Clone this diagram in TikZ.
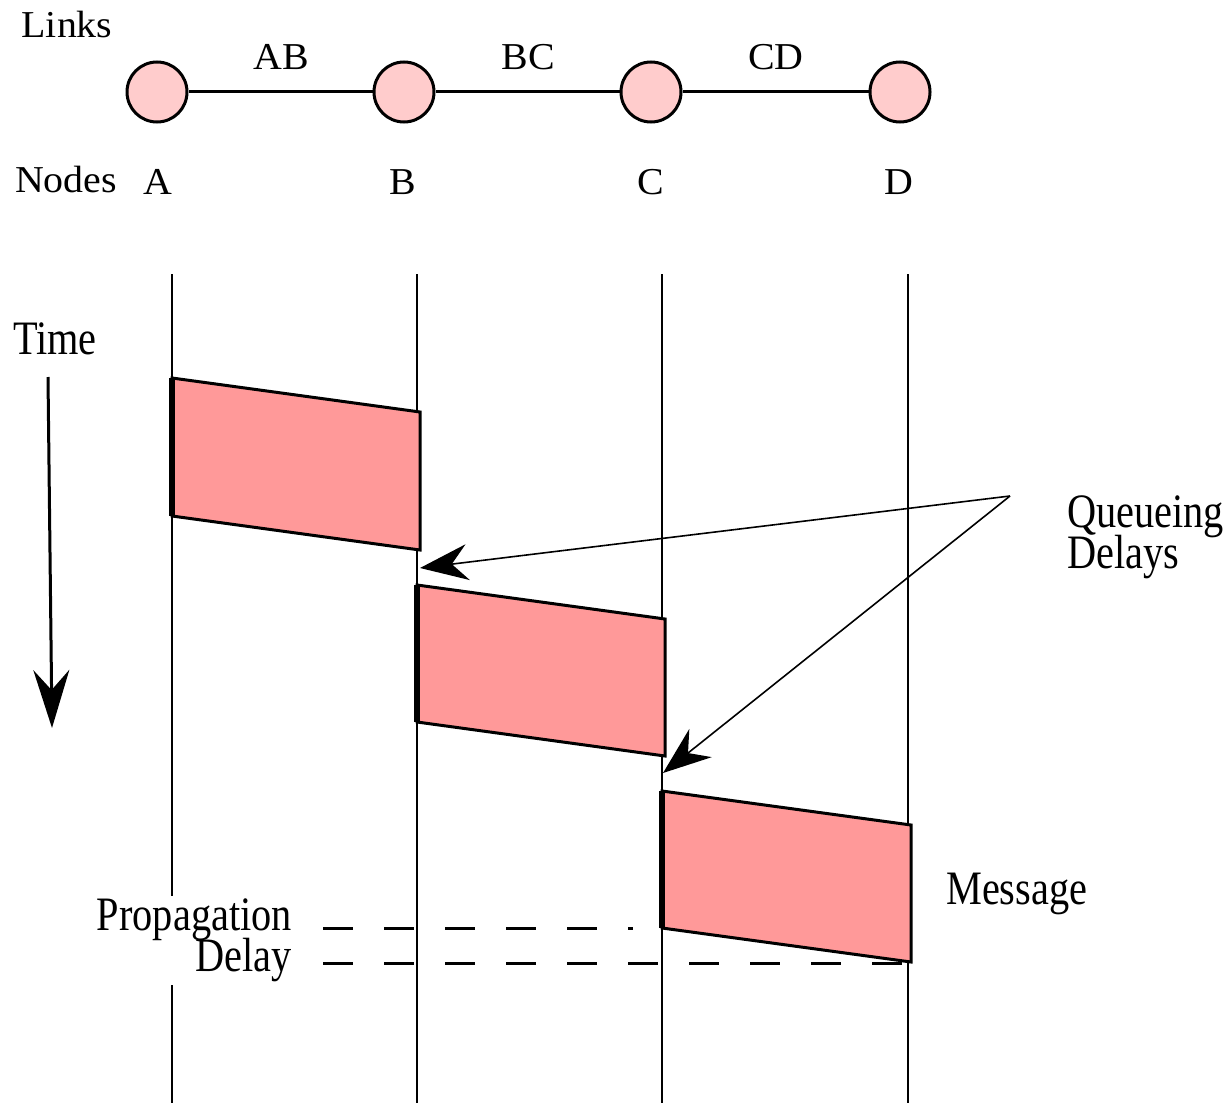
\documentclass[tikz,border=0pt]{standalone}
\usepackage{fontspec}
\setmainfont{Liberation Serif}[FakeStretch=0.84]
\newfontfamily\topfont{Liberation Serif}[FakeStretch=1.05]
\usetikzlibrary{arrows.meta}
\definecolor{nodepink}{HTML}{FFCCCC}
\definecolor{msgpink}{HTML}{FF9999}
\newcommand{\lblfont}{\fontsize{48}{41}\selectfont\lineskiplimit-100pt\relax}
\begin{document}
\begin{tikzpicture}[x=1pt,y=-1pt,
  netnode/.style={circle,draw,line width=3pt,fill=nodepink,minimum size=60pt,inner sep=0pt},
  toplbl/.style={font={\topfont\fontsize{38}{38}\selectfont},anchor=base,inner sep=0pt},
  lbl/.style={font={\lblfont},inner sep=0pt},
  linkline/.style={line width=3pt},
  lifeline/.style={line width=2.5pt},
  msg/.style={fill=msgpink,draw,line width=3pt,line join=miter},
  msgedge/.style={line width=6pt},
  qarrow/.style={line width=1.6pt,-{Stealth[length=48pt,width=36pt,inset=16pt]}},
  timearrow/.style={line width=3pt,-{Stealth[length=58pt,width=36pt,inset=20pt]}},
  propdash/.style={line width=3pt,dash pattern=on 30pt off 31pt},
]
\useasboundingbox (0,0) rectangle (1230,1102);

% network
\node[netnode] (nA) at (157,92) {};
\node[netnode] (nB) at (404,92) {};
\node[netnode] (nC) at (651,92) {};
\node[netnode] (nD) at (900,92) {};
\draw[linkline] (nA) -- (nB);
\draw[linkline] (nB) -- (nC);
\draw[linkline] (nC) -- (nD);
\node[toplbl] (links) at (67,38) {Links};
\node[toplbl] (lab) at (281,70) {AB};
\node[toplbl] (lbc) at (528,70) {BC};
\node[toplbl] (lcd) at (776,70) {CD};
\node[toplbl] (nodes) at (66,193) {Nodes};
\node[toplbl] (la) at (158,194) {A};
\node[toplbl] (lb) at (403,194) {B};
\node[toplbl] (lc) at (651,194) {C};
\node[toplbl] (ld) at (899,194) {D};

% lifelines
\coordinate (aT) at (172,274); \coordinate (aB) at (172,1104);
\coordinate (bT) at (417,274); \coordinate (bB) at (417,1104);
\coordinate (cT) at (662,274); \coordinate (cB) at (662,1104);
\coordinate (dT) at (908,274); \coordinate (dB) at (908,1104);
\draw[lifeline] (aT) -- (aB);
\draw[lifeline] (bT) -- (bB);
\draw[lifeline] (cT) -- (cB);
\draw[lifeline] (dT) -- (dB);

% messages
\draw[msg] (172,378) -- (420,412) -- (420,550) -- (172,516) -- cycle;
\draw[msgedge] (172,378) -- (172,516);
\draw[msg] (417,585) -- (665,619) -- (665,756) -- (417,722) -- cycle;
\draw[msgedge] (417,585) -- (417,722);
\draw[msg] (662,791) -- (911,825) -- (911,962) -- (662,928) -- cycle;
\draw[msgedge] (662,791) -- (662,928);

% propagation delay dashes
\coordinate (p1s) at (323,928); \coordinate (p1e) at (633,928);
\coordinate (p2s) at (323,963); \coordinate (p2e) at (906,963);
\draw[propdash] (p1s) -- (p1e);
\draw[propdash] (p2s) -- (p2e);

% time arrow
\coordinate (tT) at (48,377); \coordinate (tB) at (52,728);
\draw[timearrow] (tT) -- (tB);
\node[lbl,anchor=base] (time) at (55,354) {Time};

% queueing delays
\coordinate (qapex) at (1010,496);
\coordinate (q1) at (420,568);
\coordinate (q2) at (663,773);
\draw[qarrow] (qapex) -- (q1);
\draw[qarrow] (qapex) -- (q2);
\node[lbl,align=left,anchor=north west] (qd) at (1067,496) {Queueing\\Delays};

\node[lbl,anchor=base west] (message) at (946,904) {Message};
\node[lbl,align=right,anchor=north east,fill=white,inner sep=3pt] (prop) at (295,896) {Propagation\\Delay};
\end{tikzpicture}
\end{document}
